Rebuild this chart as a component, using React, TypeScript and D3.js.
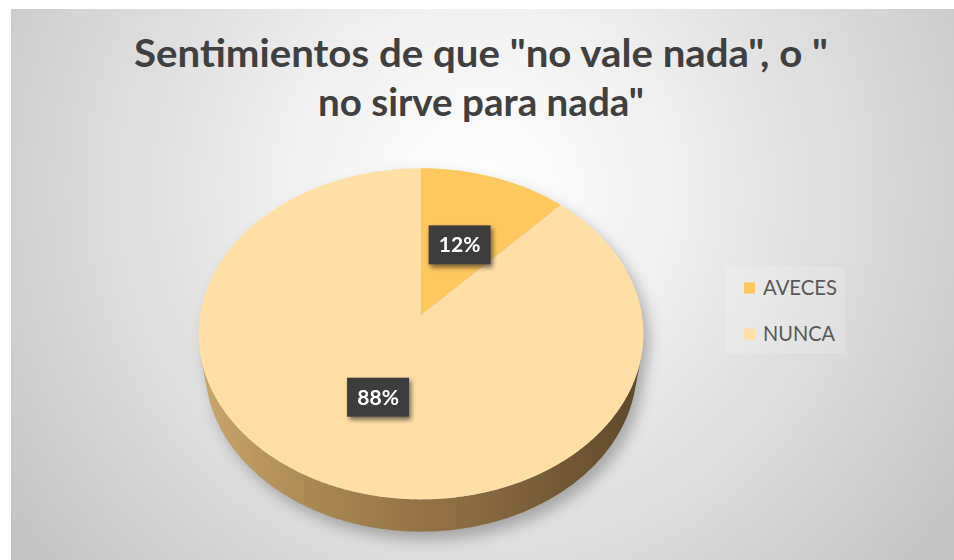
import React from "react";
import * as d3 from "d3";

// Chart data
const categories = ["AVECES", "NUNCA"];
const values = [12, 88];
const sliceColors = ["#FFC85F", "#FFDFA6"];
const titleLines = ['Sentimientos de que "no vale nada", o "', 'no sirve para nada"'];

const W = 954;
const H = 560;

// 3D pie projection parameters (perspective view of a tilted disc)
const CX = 421;
const CY = 315;
const PHI = (47.7 * Math.PI) / 180; // elevation of the camera
const DIST = 5.92; // camera distance in pie radii
const FOCAL = 1308;
const THICK = 0.235; // disc thickness in pie radii

type Pt = [number, number];

function project(X: number, Y: number, Z: number): Pt {
  const depth = DIST - Y * Math.sin(PHI) - Z * Math.cos(PHI);
  const sx = CX + (FOCAL * X) / depth;
  const sy = CY - (FOCAL * (Y * Math.cos(PHI) - Z * Math.sin(PHI))) / depth;
  return [sx, sy];
}

// angle measured clockwise from 12 o'clock, as d3.pie does
function rimPoint(theta: number, r: number, Y: number): Pt {
  return project(r * Math.sin(theta), Y, -r * Math.cos(theta));
}

function sampleAngles(a0: number, a1: number, step = 0.01): number[] {
  const n = Math.max(2, Math.ceil(Math.abs(a1 - a0) / step));
  return d3.range(n + 1).map((i) => a0 + ((a1 - a0) * i) / n);
}

const line = d3.line<Pt>().x((d) => d[0]).y((d) => d[1]);

export default function App() {
  const pie = d3.pie<number>().sort(null).startAngle(0).endAngle(2 * Math.PI);
  const arcs = pie(values);
  const total = d3.sum(values);
  const color = d3.scaleOrdinal<string, string>().domain(categories).range(sliceColors);

  // top faces of the slices
  const center = project(0, 0, 0);
  const slicePaths = arcs.map((a) => {
    const pts: Pt[] = [center, ...sampleAngles(a.startAngle, a.endAngle).map((t) => rimPoint(t, 1, 0))];
    return line(pts) + "Z";
  });

  // visible part of the cylinder side: outward normal faces the camera
  const limit = -1 / (DIST * Math.cos(PHI));
  const sideStart = Math.acos(limit);
  const sideEnd = 2 * Math.PI - sideStart;
  const sideAngles = sampleAngles(sideStart, sideEnd);
  const sidePts: Pt[] = [
    ...sideAngles.map((t) => rimPoint(t, 1, 0)),
    ...sideAngles.slice().reverse().map((t) => rimPoint(t, 1, -THICK)),
  ];
  const sidePath = line(sidePts) + "Z";

  // silhouette used for the drop shadow
  const topFull = sampleAngles(0, 2 * Math.PI).map((t) => rimPoint(t, 1, 0));
  const topPath = line(topFull) + "Z";

  // label positions along each slice bisector
  const labels = arcs.map((a, i) => {
    const mid = (a.startAngle + a.endAngle) / 2;
    const [x, y] = rimPoint(mid, 0.5, 0);
    const pct = Math.round((values[i] / total) * 100);
    return { x, y: y + 2, text: `${pct}%` };
  });

  const legendY = [288, 334];

  return (
    <svg
      width={W}
      height={H}
      style={{ position: "absolute", left: 0, top: 0, display: "block" }}
      fontFamily="Lato, 'Open Sans', sans-serif"
    >
      <defs>
        <radialGradient id="bg" gradientUnits="userSpaceOnUse" cx={480} cy={190} r={600}>
          <stop offset="0" stopColor="#ffffff" />
          <stop offset="0.3" stopColor="#f1f1f1" />
          <stop offset="0.75" stopColor="#d3d3d3" />
          <stop offset="1" stopColor="#c2c2c2" />
        </radialGradient>
        <linearGradient id="side" gradientUnits="userSpaceOnUse" x1={200} y1={0} x2={643} y2={0}>
          <stop offset="0" stopColor="#c9a66a" />
          <stop offset="0.3" stopColor="#a4844f" />
          <stop offset="0.65" stopColor="#866840" />
          <stop offset="1" stopColor="#5e482b" />
        </linearGradient>
        <filter id="pieShadow" x="-20%" y="-20%" width="140%" height="140%">
          <feGaussianBlur stdDeviation="7" />
        </filter>
        <filter id="boxShadow" x="-30%" y="-30%" width="160%" height="160%">
          <feGaussianBlur in="SourceAlpha" stdDeviation="2.5" />
          <feOffset dx="2" dy="3" result="b" />
          <feComponentTransfer>
            <feFuncA type="linear" slope="0.55" />
          </feComponentTransfer>
          <feMerge>
            <feMergeNode />
            <feMergeNode in="SourceGraphic" />
          </feMerge>
        </filter>
      </defs>

      <rect x={0} y={0} width={W} height={H} fill="#ffffff" />
      <rect x={11} y={9} width={W - 11} height={H - 9} fill="url(#bg)" />

      {/* title */}
      <g fill="#404040" fontWeight={700} fontSize={39} textAnchor="middle">
        <text x={481} y={67} textLength={694} lengthAdjust="spacingAndGlyphs">
          {titleLines[0]}
        </text>
        <text x={481} y={116} textLength={326} lengthAdjust="spacingAndGlyphs">
          {titleLines[1]}
        </text>
      </g>

      {/* shadow beneath the disc */}
      <g filter="url(#pieShadow)" opacity={0.35} transform="translate(6,8)">
        <path d={topPath} fill="#3a3a3a" />
        <path d={sidePath} fill="#3a3a3a" />
      </g>

      {/* side wall, then slice tops */}
      <path d={sidePath} fill="url(#side)" />
      {slicePaths.map((d, i) => (
        <path key={categories[i]} d={d} fill={color(categories[i])} />
      ))}

      {/* data labels */}
      {labels.map((l) => (
        <g key={l.text} filter="url(#boxShadow)">
          <rect x={l.x - 31} y={l.y - 19.5} width={62} height={39} fill="#3d3d3d" />
          <text
            x={l.x}
            y={l.y + 7.5}
            fill="#ffffff"
            fontWeight={700}
            fontSize={21}
            textAnchor="middle"
          >
            {l.text}
          </text>
        </g>
      ))}

      {/* legend */}
      <rect x={725} y={267} width={120} height={86} fill="#ffffff" opacity={0.18} />
      {categories.map((c, i) => (
        <g key={c}>
          <rect x={744} y={legendY[i] - 5.5} width={11} height={11} fill={color(c)} />
          <text x={763} y={legendY[i] + 7} fill="#595959" fontSize={21} textLength={i === 0 ? 74 : 72} lengthAdjust="spacingAndGlyphs">
            {c}
          </text>
        </g>
      ))}
    </svg>
  );
}
